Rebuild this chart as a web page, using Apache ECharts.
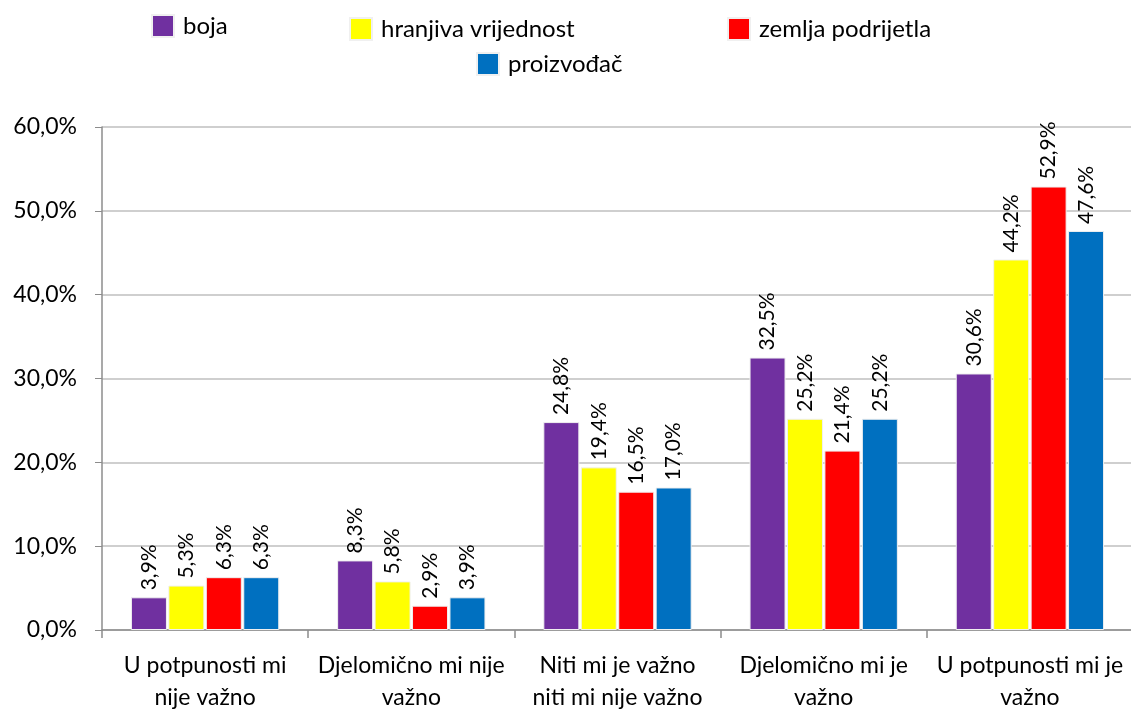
<!DOCTYPE html>
<html>
<head>
<meta charset="utf-8">
<script src="https://cdn.jsdelivr.net/npm/echarts@6/dist/echarts.min.js"></script>
<style>
  html, body { margin: 0; padding: 0; background: #fff; }
  #chart-container { width: 1131px; height: 711px; }
</style>
</head>
<body>
<div id="chart-container"></div>
<script>
var categories = [
  "U potpunosti mi\nnije važno",
  "Djelomično mi nije\nvažno",
  "Niti mi je važno\nniti mi nije važno",
  "Djelomično mi je\nvažno",
  "U potpunosti mi je\nvažno"
];
var seriesNames = ["boja", "hranjiva vrijednost", "zemlja podrijetla", "proizvođač"];
var boja = [3.9, 8.3, 24.8, 32.5, 30.6];
var hranjiva = [5.3, 5.8, 19.4, 25.2, 44.2];
var zemlja = [6.3, 2.9, 16.5, 21.4, 52.9];
var proizvodac = [6.3, 3.9, 17.0, 25.2, 47.6];
var colors = ["#7030A0", "#FFFF00", "#FF0000", "#0070C0"];

var FONT = "Lato";
var dom = document.getElementById("chart-container");
var myChart = echarts.init(dom, null, { renderer: "canvas" });

function pct(v) {
  return v.toFixed(1).replace(".", ",") + "%";
}

function makeLegend(name, left, top) {
  return {
    data: [{ name: name, icon: "rect" }],
    left: left,
    top: top,
    itemWidth: 22,
    itemHeight: 22,
    itemGap: 0,
    textStyle: { fontFamily: FONT, fontSize: 24, color: "#000", padding: [2, 0, 0, 4] },
    selectedMode: false,
    padding: 0
  };
}

var allData = [boja, hranjiva, zemlja, proizvodac];
var series = allData.map(function (d, i) {
  return {
    name: seriesNames[i],
    type: "bar",
    data: d,
    barWidth: 36,
    barGap: "4%",
    itemStyle: { color: colors[i], borderColor: "#f0f0f0", borderWidth: 1 },
    label: {
      show: true,
      position: "top",
      rotate: 90,
      align: "left",
      verticalAlign: "middle",
      distance: 7,
      fontFamily: FONT,
      fontSize: 21,
      color: "#000",
      formatter: function (p) { return pct(p.value); }
    }
  };
});

var option = {
  animation: false,
  backgroundColor: "#fff",
  color: colors,
  legend: [
    makeLegend(seriesNames[0], 151, 14),
    makeLegend(seriesNames[1], 349, 17),
    makeLegend(seriesNames[2], 727, 17),
    makeLegend(seriesNames[3], 476, 52)
  ],
  grid: { left: 102, right: -2, top: 127, bottom: 81, containLabel: false, outerBoundsMode: "none" },
  xAxis: {
    type: "category",
    data: categories,
    axisLine: { lineStyle: { color: "#8c8c8c", width: 1.5 } },
    axisTick: { show: true, length: 8, lineStyle: { color: "#8c8c8c", width: 1.5 } },
    axisLabel: {
      fontFamily: FONT,
      fontSize: 23,
      color: "#000",
      lineHeight: 32,
      margin: 20,
      interval: 0
    }
  },
  yAxis: {
    type: "value",
    min: 0,
    max: 60,
    interval: 10,
    axisLine: { show: true, lineStyle: { color: "#8c8c8c", width: 1.5 } },
    axisTick: { show: true, length: 7, lineStyle: { color: "#8c8c8c" } },
    splitLine: { lineStyle: { color: "#bfbfbf", width: 1.5 } },
    axisLabel: {
      fontFamily: FONT,
      fontSize: 23,
      color: "#000",
      margin: 25,
      formatter: function (v) { return pct(v); }
    }
  },
  series: series
};

myChart.setOption(option);
window.addEventListener("resize", myChart.resize);
</script>
</body>
</html>
